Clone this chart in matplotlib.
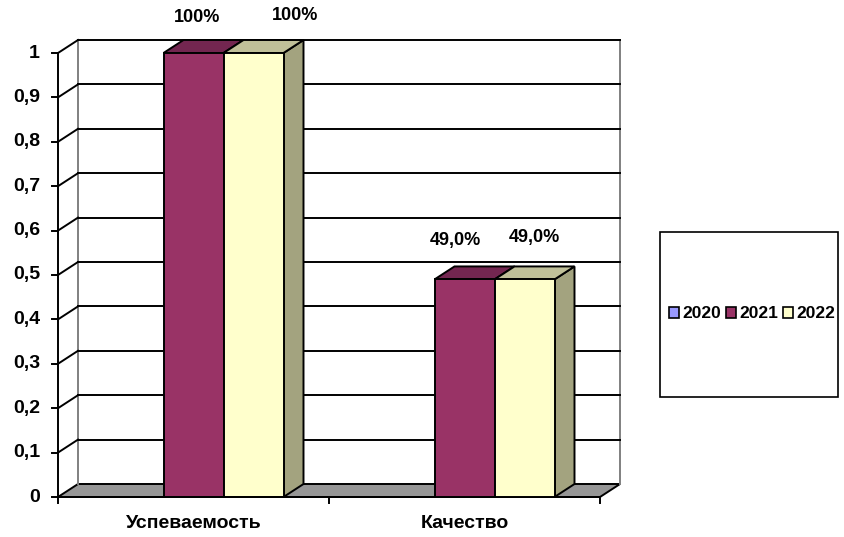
import numpy as np
import matplotlib
matplotlib.use("Agg")
import matplotlib.pyplot as plt
from matplotlib.patches import Polygon, Rectangle, Patch

plt.rcParams['font.family'] = ['Liberation Sans', 'DejaVu Sans']
plt.rcParams['font.weight'] = 'bold'

categories = ['Успеваемость', 'Качество']
series = ['2020', '2021', '2022']
values = {
    '2020': [np.nan, np.nan],
    '2021': [1.0, 0.49],
    '2022': [1.0, 0.49],
}
bar_labels = {
    '2021': ['100%', '49,0%'],
    '2022': ['100%', '49,0%'],
}
yticks = [0, 0.1, 0.2, 0.3, 0.4, 0.5, 0.6, 0.7, 0.8, 0.9, 1]
ytick_labels = ['0', '0,1', '0,2', '0,3', '0,4', '0,5', '0,6', '0,7', '0,8', '0,9', '1']

# front, top, side colours per series
colors = {
    '2020': ('#9999FF', '#7373BF', '#6B6BB3'),
    '2021': ('#993366', '#732650', '#6B2447'),
    '2022': ('#FFFFCC', '#C0C099', '#A3A37F'),
}
# label offsets in pixels from bar top centre (up is positive)
label_off = {
    '2021': [(4, 36), (-9, 39)],
    '2022': [(42, 38), (10, 42)],
}

W, H = 844, 537
fig = plt.figure(figsize=(W / 100, H / 100), dpi=100)
x0, x1, y0, y1 = 58, 600, 497, 53
ax = fig.add_axes([x0 / W, (H - y0) / H, (x1 - x0) / W, (y0 - y1) / H])
ax.set_xlim(0, 2)
ax.set_ylim(0, 1)
ax.axis('off')

# depth offset in data units
dx = 20 / (x1 - x0) * 2
dy = 13 / (y0 - y1)
lw = 1.4

# floor
ax.add_patch(Polygon([(0, 0), (2, 0), (2 + dx, dy), (dx, dy)], closed=True,
                     facecolor='#969696', edgecolor='black', lw=lw, clip_on=False, zorder=1))
# back wall frame
ax.plot([dx, dx], [dy, 1 + dy], color='#808080', lw=lw, clip_on=False, zorder=1)
ax.plot([2 + dx, 2 + dx], [dy, 1 + dy], color='#808080', lw=lw, clip_on=False, zorder=1)
for v in yticks[1:]:
    ax.plot([dx, 2 + dx], [v + dy, v + dy], color='black', lw=lw, clip_on=False, zorder=1)
    ax.plot([0, dx], [v, v + dy], color='black', lw=lw, clip_on=False, zorder=1)

# front value axis and ticks
ax.plot([0, 0], [0, 1], color='black', lw=lw, clip_on=False, zorder=5)
tick_px = 6 / (x1 - x0) * 2
for v, lab in zip(yticks, ytick_labels):
    ax.plot([-tick_px, 0], [v, v], color='black', lw=lw, clip_on=False, zorder=5)
    ax.text(-18 / (x1 - x0) * 2, v, lab, ha='right', va='center', fontsize=14,
            fontweight='bold')
ax.plot([0, 2], [0, 0], color='black', lw=lw, clip_on=False, zorder=5)
tick_py = 6 / (y0 - y1)
for xc in [0, 1, 2]:
    ax.plot([xc, xc], [0, -tick_py], color='black', lw=lw, clip_on=False, zorder=5)
for i, cat in enumerate(categories):
    ax.text(i + 0.5, -26 / (y0 - y1), cat, ha='center', va='center', fontsize=14,
            fontweight='bold')

# bars
bw = 60 / (x1 - x0) * 2
z = 3
for i in range(len(categories)):
    for k, s in enumerate(series):
        v = values[s][i]
        if np.isnan(v):
            continue
        left = i + 0.5 + (k - 1.5) * bw
        right = left + bw
        front, top, side = colors[s]
        ax.add_patch(Polygon([(right, 0), (right + dx, dy), (right + dx, v + dy), (right, v)],
                             closed=True, facecolor=side, edgecolor='black', lw=lw,
                             clip_on=False, zorder=z))
        ax.add_patch(Polygon([(left, v), (right, v), (right + dx, v + dy), (left + dx, v + dy)],
                             closed=True, facecolor=top, edgecolor='black', lw=lw,
                             clip_on=False, zorder=z))
        ax.add_patch(Rectangle((left, 0), bw, v, facecolor=front, edgecolor='black', lw=lw,
                               clip_on=False, zorder=z))
        z += 1
        if s in bar_labels:
            ax.annotate(bar_labels[s][i], (left + bw / 2, v), xytext=label_off[s][i],
                        textcoords='offset pixels', ha='center', va='center',
                        fontsize=13, fontweight='bold', zorder=10)

# legend
fig.patches.append(Rectangle((660 / W, (H - 397) / H), 178 / W, 165 / H,
                             transform=fig.transFigure, facecolor='white',
                             edgecolor='black', lw=1.2))
handles = [Patch(facecolor=colors[s][0], edgecolor='black', lw=1.2, label=s) for s in series]
fig.legend(handles=handles, loc='center', bbox_to_anchor=(752 / W, (H - 314) / H),
           ncol=3, frameon=False, handlelength=0.55, handleheight=0.55,
           handletextpad=0.2, columnspacing=0.3, borderpad=0,
           prop={'weight': 'bold', 'size': 12.5})

fig.savefig('out.png', dpi=100)
